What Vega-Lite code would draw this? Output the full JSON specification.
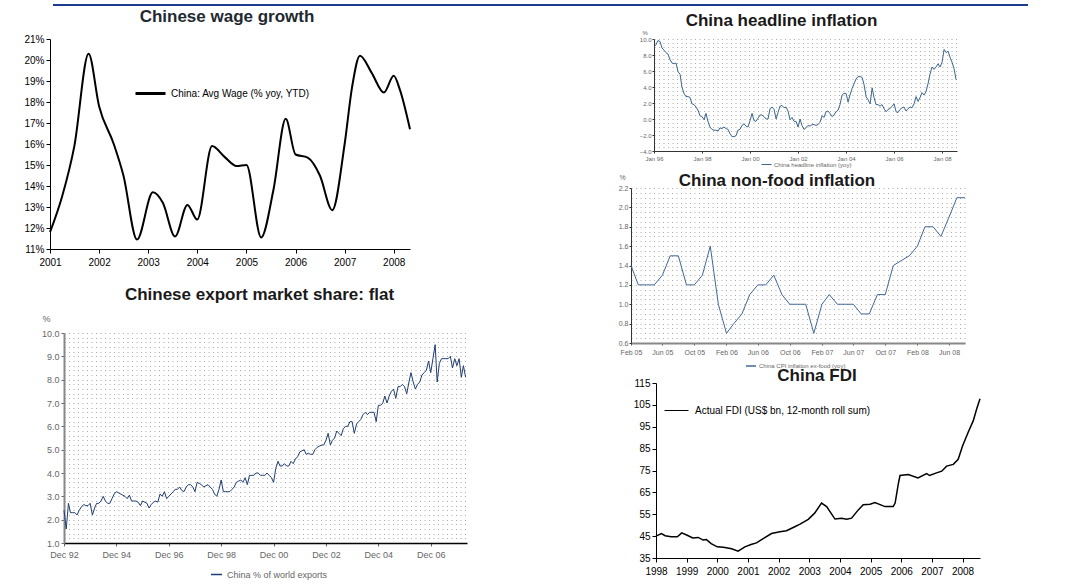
{
  "$schema": "https://vega.github.io/schema/vega-lite/v6.json",
  "padding": {"left": 0, "top": 4, "right": 0, "bottom": 0},
  "config": {
    "font": "Liberation Sans",
    "view": {"stroke": null},
    "axis": {"grid": false, "labelFont": "Liberation Sans", "titleFont": "Liberation Sans"},
    "title": {"font": "Liberation Sans", "fontWeight": "bold", "fontSize": 17, "color": "#1a1a1a", "anchor": "middle", "frame": "group"},
    "legend": {"labelFont": "Liberation Sans", "padding": 0, "labelLimit": 0}
  },
  "spacing": 2,
  "resolve": {"scale": {"color": "independent"}},
  "vconcat": [
    {
      "spacing": 0,
      "resolve": {"scale": {"color": "independent"}},
      "hconcat": [
        {"width": 53, "height": 2, "data": {"values": []}, "mark": "point", "encoding": {}, "view": {"stroke": null}},
        {"width": 975, "height": 2, "data": {"values": []}, "mark": "point", "encoding": {}, "view": {"stroke": null, "fill": "#1c3d8f"}}
      ]
    },
    {
      "spacing": 131,
      "resolve": {"scale": {"color": "independent"}},
      "hconcat": [
        {
          "spacing": 19,
          "resolve": {"scale": {"color": "independent"}},
          "vconcat": [
            {
              "spacing": 0,
              "resolve": {"scale": {"color": "independent"}},
              "hconcat": [
                {"width": 23, "height": 2, "data": {"values": []}, "mark": "point", "encoding": {}, "view": {"stroke": null}},
                {
                  "width": 360, "height": 210,
                  "title": {"text": "Chinese wage growth", "color": "#1e2a30", "offset": 8, "dx": -3},
                  "data": {"values": [
                    {"d": "2001-01-01", "v": 11.8}, {"d": "2001-04-01", "v": 13.5}, {"d": "2001-07-01", "v": 15.9},
                    {"d": "2001-10-15", "v": 20.3}, {"d": "2002-01-01", "v": 17.8}, {"d": "2002-04-20", "v": 16.0},
                    {"d": "2002-07-01", "v": 14.5}, {"d": "2002-10-10", "v": 11.45}, {"d": "2003-02-05", "v": 13.7},
                    {"d": "2003-04-20", "v": 13.2}, {"d": "2003-07-20", "v": 11.6}, {"d": "2003-10-20", "v": 13.1},
                    {"d": "2004-01-01", "v": 12.4}, {"d": "2004-04-20", "v": 15.9}, {"d": "2004-07-20", "v": 15.4},
                    {"d": "2004-10-20", "v": 14.95}, {"d": "2005-01-01", "v": 15.0}, {"d": "2005-04-20", "v": 11.55},
                    {"d": "2005-07-20", "v": 13.8}, {"d": "2005-10-20", "v": 17.2}, {"d": "2006-01-01", "v": 15.5},
                    {"d": "2006-04-01", "v": 15.35}, {"d": "2006-07-01", "v": 14.5}, {"d": "2006-10-01", "v": 12.85},
                    {"d": "2007-01-01", "v": 16.0}, {"d": "2007-02-25", "v": 18.7}, {"d": "2007-04-25", "v": 20.2},
                    {"d": "2007-07-20", "v": 19.4}, {"d": "2007-10-20", "v": 18.45}, {"d": "2008-01-01", "v": 19.25},
                    {"d": "2008-02-15", "v": 18.6}, {"d": "2008-05-01", "v": 16.7}
                  ]},
                  "mark": {"type": "line", "interpolate": "monotone", "strokeWidth": 2},
                  "encoding": {
                    "x": {"field": "d", "type": "temporal",
                      "scale": {"type": "utc", "domain": [{"year": 2001, "month": 1, "date": 1, "utc": true}, {"year": 2008, "month": 5, "date": 1, "utc": true}]},
                      "axis": {"title": null, "labelExpr": "utcFormat(datum.value, '%Y')", "tickCount": {"interval": "year", "step": 1}, "labelFontSize": 10, "labelColor": "black", "domainColor": "black", "tickColor": "black", "tickSize": 4, "labelFlush": false, "labelPadding": 4}},
                    "y": {"field": "v", "type": "quantitative",
                      "scale": {"domain": [11, 21], "zero": false, "nice": false},
                      "axis": {"title": null, "tickCount": 10, "labelExpr": "datum.value + '%'", "labelFontSize": 10, "labelColor": "black", "domainColor": "black", "tickColor": "black", "tickSize": 4}},
                    "color": {"datum": "China: Avg Wage (% yoy, YTD)", "scale": {"range": ["black"]},
                      "legend": {"title": null, "orient": "none", "legendX": 84, "legendY": 38, "symbolType": "stroke", "symbolStrokeWidth": 3, "symbolSize": 900, "labelFontSize": 10, "labelColor": "black"}}
                  }
                }
              ]
            },
            {
              "spacing": 0,
              "resolve": {"scale": {"color": "independent"}},
              "hconcat": [
                {"width": 41, "height": 2, "data": {"values": []}, "mark": "point", "encoding": {}, "view": {"stroke": null}},
                {
                  "width": 403, "height": 210,
                  "title": {"text": "Chinese export market share: flat", "offset": 10, "dx": -6},
                  "data": {"values": [
                    {"d":"1992-12","v":2.4},{"d":"1993-01","v":1.6},{"d":"1993-02","v":2.7},{"d":"1993-03","v":2.3},{"d":"1993-04","v":2.3},{"d":"1993-05","v":2.3},{"d":"1993-06","v":2.2},{"d":"1993-07","v":2.4},{"d":"1993-08","v":2.55},{"d":"1993-09","v":2.65},{"d":"1993-10","v":2.6},{"d":"1993-11","v":2.6},{"d":"1993-12","v":2.7},
                    {"d":"1994-01","v":2.2},{"d":"1994-02","v":2.5},{"d":"1994-03","v":2.7},{"d":"1994-04","v":2.7},{"d":"1994-05","v":2.8},{"d":"1994-06","v":3.0},{"d":"1994-07","v":2.8},{"d":"1994-08","v":2.7},{"d":"1994-09","v":2.7},{"d":"1994-10","v":2.9},{"d":"1994-11","v":3.1},{"d":"1994-12","v":3.2},
                    {"d":"1995-01","v":3.15},{"d":"1995-02","v":3.1},{"d":"1995-03","v":3.05},{"d":"1995-04","v":3.0},{"d":"1995-05","v":2.9},{"d":"1995-06","v":3.05},{"d":"1995-07","v":2.8},{"d":"1995-08","v":2.8},{"d":"1995-09","v":2.8},{"d":"1995-10","v":2.75},{"d":"1995-11","v":2.6},{"d":"1995-12","v":2.8},
                    {"d":"1996-01","v":2.75},{"d":"1996-02","v":2.7},{"d":"1996-03","v":2.5},{"d":"1996-04","v":2.65},{"d":"1996-05","v":2.75},{"d":"1996-06","v":2.8},{"d":"1996-07","v":2.75},{"d":"1996-08","v":3.1},{"d":"1996-09","v":3.0},{"d":"1996-10","v":3.2},{"d":"1996-11","v":2.9},{"d":"1996-12","v":3.0},
                    {"d":"1997-01","v":3.1},{"d":"1997-02","v":3.2},{"d":"1997-03","v":3.3},{"d":"1997-04","v":3.3},{"d":"1997-05","v":3.4},{"d":"1997-06","v":3.25},{"d":"1997-07","v":3.2},{"d":"1997-08","v":3.4},{"d":"1997-09","v":3.5},{"d":"1997-10","v":3.5},{"d":"1997-11","v":3.4},{"d":"1997-12","v":3.2},
                    {"d":"1998-01","v":3.6},{"d":"1998-02","v":3.55},{"d":"1998-03","v":3.5},{"d":"1998-04","v":3.4},{"d":"1998-05","v":3.45},{"d":"1998-06","v":3.5},{"d":"1998-07","v":3.4},{"d":"1998-08","v":3.3},{"d":"1998-09","v":3.1},{"d":"1998-10","v":3.0},{"d":"1998-11","v":3.3},{"d":"1998-12","v":3.7},
                    {"d":"1999-01","v":3.2},{"d":"1999-02","v":3.2},{"d":"1999-03","v":3.2},{"d":"1999-04","v":3.2},{"d":"1999-05","v":3.3},{"d":"1999-06","v":3.4},{"d":"1999-07","v":3.6},{"d":"1999-08","v":3.65},{"d":"1999-09","v":3.7},{"d":"1999-10","v":3.6},{"d":"1999-11","v":3.8},{"d":"1999-12","v":3.5},
                    {"d":"2000-01","v":3.9},{"d":"2000-02","v":3.9},{"d":"2000-03","v":3.9},{"d":"2000-04","v":4.0},{"d":"2000-05","v":4.0},{"d":"2000-06","v":3.9},{"d":"2000-07","v":3.9},{"d":"2000-08","v":3.9},{"d":"2000-09","v":4.0},{"d":"2000-10","v":3.9},{"d":"2000-11","v":3.8},{"d":"2000-12","v":3.6},
                    {"d":"2001-01","v":4.2},{"d":"2001-02","v":4.5},{"d":"2001-03","v":4.3},{"d":"2001-04","v":4.3},{"d":"2001-05","v":4.4},{"d":"2001-06","v":4.3},{"d":"2001-07","v":4.3},{"d":"2001-08","v":4.5},{"d":"2001-09","v":4.4},{"d":"2001-10","v":4.6},{"d":"2001-11","v":4.7},{"d":"2001-12","v":4.9},
                    {"d":"2002-01","v":4.95},{"d":"2002-02","v":5.0},{"d":"2002-03","v":4.8},{"d":"2002-04","v":4.85},{"d":"2002-05","v":4.8},{"d":"2002-06","v":4.8},{"d":"2002-07","v":5.0},{"d":"2002-08","v":5.1},{"d":"2002-09","v":5.15},{"d":"2002-10","v":5.2},{"d":"2002-11","v":5.2},{"d":"2002-12","v":5.4},
                    {"d":"2003-01","v":5.7},{"d":"2003-02","v":5.2},{"d":"2003-03","v":5.4},{"d":"2003-04","v":5.5},{"d":"2003-05","v":5.8},{"d":"2003-06","v":5.7},{"d":"2003-07","v":5.6},{"d":"2003-08","v":5.9},{"d":"2003-09","v":6.0},{"d":"2003-10","v":6.0},{"d":"2003-11","v":6.2},{"d":"2003-12","v":6.2},
                    {"d":"2004-01","v":5.7},{"d":"2004-02","v":6.1},{"d":"2004-03","v":6.2},{"d":"2004-04","v":6.3},{"d":"2004-05","v":6.5},{"d":"2004-06","v":6.6},{"d":"2004-07","v":6.5},{"d":"2004-08","v":6.6},{"d":"2004-09","v":6.6},{"d":"2004-10","v":6.6},{"d":"2004-11","v":6.2},{"d":"2004-12","v":6.9},
                    {"d":"2005-01","v":6.9},{"d":"2005-02","v":7.0},{"d":"2005-03","v":7.3},{"d":"2005-04","v":7.0},{"d":"2005-05","v":7.3},{"d":"2005-06","v":7.5},{"d":"2005-07","v":7.6},{"d":"2005-08","v":7.2},{"d":"2005-09","v":7.7},{"d":"2005-10","v":7.7},{"d":"2005-11","v":7.8},{"d":"2005-12","v":7.7},
                    {"d":"2006-01","v":7.4},{"d":"2006-02","v":7.9},{"d":"2006-03","v":8.3},{"d":"2006-04","v":7.9},{"d":"2006-05","v":7.6},{"d":"2006-06","v":7.8},{"d":"2006-07","v":7.9},{"d":"2006-08","v":8.2},{"d":"2006-09","v":8.3},{"d":"2006-10","v":8.4},{"d":"2006-11","v":8.8},{"d":"2006-12","v":8.3},
                    {"d":"2007-01","v":8.9},{"d":"2007-02","v":9.5},{"d":"2007-03","v":7.9},{"d":"2007-04","v":8.7},{"d":"2007-05","v":8.9},{"d":"2007-06","v":8.9},{"d":"2007-07","v":8.9},{"d":"2007-08","v":8.9},{"d":"2007-09","v":9.0},{"d":"2007-10","v":8.5},{"d":"2007-11","v":8.9},{"d":"2007-12","v":8.6},
                    {"d":"2008-01","v":8.9},{"d":"2008-02","v":8.1},{"d":"2008-03","v":8.6},{"d":"2008-04","v":8.1}
                  ]},
                  "mark": {"type": "line", "strokeWidth": 1},
                  "encoding": {
                    "x": {"field": "d", "type": "temporal",
                      "scale": {"type": "utc", "domain": [{"year": 1992, "month": 12, "date": 1, "utc": true}, {"year": 2008, "month": 4, "date": 20, "utc": true}]},
                      "axis": {"title": null, "labelExpr": "utcFormat(datum.value, '%b %y')",
                        "values": [{"year": 1992, "month": 12, "date": 1, "utc": true}, {"year": 1994, "month": 12, "date": 1, "utc": true}, {"year": 1996, "month": 12, "date": 1, "utc": true}, {"year": 1998, "month": 12, "date": 1, "utc": true}, {"year": 2000, "month": 12, "date": 1, "utc": true}, {"year": 2002, "month": 12, "date": 1, "utc": true}, {"year": 2004, "month": 12, "date": 1, "utc": true}, {"year": 2006, "month": 12, "date": 1, "utc": true}],
                        "labelFontSize": 9, "labelColor": "#666", "domainColor": "black", "domainWidth": 1.5, "tickColor": "#666", "tickSize": 3, "labelFlush": false, "labelPadding": 4}},
                    "y": {"field": "v", "type": "quantitative",
                      "scale": {"domain": [1, 10], "zero": false, "nice": false},
                      "axis": {"title": "%", "titleAngle": 0, "titleX": -22, "titleY": -10, "titleFontSize": 9, "titleFontWeight": "normal", "titleColor": "#666", "titleAlign": "left", "titleBaseline": "bottom",
                        "tickCount": 45, "grid": true, "gridDash": [1, 3.5], "gridColor": "#aaa",
                        "labelExpr": "abs(datum.value - round(datum.value)) < 0.01 ? format(datum.value, '.1f') : ''",
                        "labelOverlap": false, "labelFontSize": 9, "labelColor": "#666",
                        "tickOpacity": {"condition": {"test": "abs(datum.value - round(datum.value)) < 0.01", "value": 1}, "value": 0},
                        "domainColor": "#888", "domainWidth": 2, "tickColor": "#666", "tickSize": 3}},
                    "color": {"datum": "China % of world exports", "scale": {"range": ["#1f3d73"]},
                      "legend": {"title": null, "orient": "none", "legendX": 146, "legendY": 235, "symbolType": "stroke", "symbolStrokeWidth": 1.5, "symbolSize": 121, "labelFontSize": 9, "labelColor": "#666"}}
                  }
                }
              ]
            }
          ]
        },
        {
          "spacing": -2,
          "resolve": {"scale": {"color": "independent"}},
          "vconcat": [
            {
              "spacing": 4,
              "resolve": {"scale": {"color": "independent"}},
              "vconcat": [
                {
                  "spacing": 0,
                  "resolve": {"scale": {"color": "independent"}},
                  "hconcat": [
                    {"width": 40, "height": 2, "data": {"values": []}, "mark": "point", "encoding": {}, "view": {"stroke": null}},
                    {
                      "width": 303, "height": 112,
                      "title": {"text": "China headline inflation", "dx": -24, "offset": -1},
                      "data": {"values": [
                        {"d":"1996-01","v":9.0},{"d":"1996-02","v":9.3},{"d":"1996-03","v":9.8},{"d":"1996-04","v":9.7},{"d":"1996-05","v":8.9},{"d":"1996-06","v":8.6},{"d":"1996-07","v":8.3},{"d":"1996-08","v":8.1},{"d":"1996-09","v":7.4},{"d":"1996-10","v":7.0},{"d":"1996-11","v":6.9},{"d":"1996-12","v":7.0},
                        {"d":"1997-01","v":5.9},{"d":"1997-02","v":5.6},{"d":"1997-03","v":4.0},{"d":"1997-04","v":3.2},{"d":"1997-05","v":2.8},{"d":"1997-06","v":2.8},{"d":"1997-07","v":2.7},{"d":"1997-08","v":1.9},{"d":"1997-09","v":1.8},{"d":"1997-10","v":1.5},{"d":"1997-11","v":1.1},{"d":"1997-12","v":0.4},
                        {"d":"1998-01","v":0.3},{"d":"1998-02","v":-0.1},{"d":"1998-03","v":0.7},{"d":"1998-04","v":-0.3},{"d":"1998-05","v":-1.0},{"d":"1998-06","v":-1.3},{"d":"1998-07","v":-1.4},{"d":"1998-08","v":-1.4},{"d":"1998-09","v":-1.5},{"d":"1998-10","v":-1.1},{"d":"1998-11","v":-1.2},{"d":"1998-12","v":-1.0},
                        {"d":"1999-01","v":-1.2},{"d":"1999-02","v":-1.3},{"d":"1999-03","v":-1.8},{"d":"1999-04","v":-2.2},{"d":"1999-05","v":-2.2},{"d":"1999-06","v":-2.1},{"d":"1999-07","v":-1.4},{"d":"1999-08","v":-1.3},{"d":"1999-09","v":-0.8},{"d":"1999-10","v":-0.6},{"d":"1999-11","v":-0.9},{"d":"1999-12","v":-1.0},
                        {"d":"2000-01","v":-0.2},{"d":"2000-02","v":0.7},{"d":"2000-03","v":-0.2},{"d":"2000-04","v":-0.3},{"d":"2000-05","v":0.1},{"d":"2000-06","v":0.5},{"d":"2000-07","v":0.5},{"d":"2000-08","v":0.3},{"d":"2000-09","v":0.0},{"d":"2000-10","v":0.0},{"d":"2000-11","v":1.3},{"d":"2000-12","v":1.5},
                        {"d":"2001-01","v":1.2},{"d":"2001-02","v":0.0},{"d":"2001-03","v":0.8},{"d":"2001-04","v":1.6},{"d":"2001-05","v":1.7},{"d":"2001-06","v":1.4},{"d":"2001-07","v":1.5},{"d":"2001-08","v":1.0},{"d":"2001-09","v":-0.1},{"d":"2001-10","v":0.2},{"d":"2001-11","v":-0.3},{"d":"2001-12","v":-0.3},
                        {"d":"2002-01","v":-1.0},{"d":"2002-02","v":0.0},{"d":"2002-03","v":-0.8},{"d":"2002-04","v":-1.3},{"d":"2002-05","v":-1.1},{"d":"2002-06","v":-0.8},{"d":"2002-07","v":-0.9},{"d":"2002-08","v":-0.7},{"d":"2002-09","v":-0.7},{"d":"2002-10","v":-0.8},{"d":"2002-11","v":-0.7},{"d":"2002-12","v":-0.4},
                        {"d":"2003-01","v":0.4},{"d":"2003-02","v":0.2},{"d":"2003-03","v":0.9},{"d":"2003-04","v":1.0},{"d":"2003-05","v":0.7},{"d":"2003-06","v":0.3},{"d":"2003-07","v":0.5},{"d":"2003-08","v":0.9},{"d":"2003-09","v":1.1},{"d":"2003-10","v":1.8},{"d":"2003-11","v":3.0},{"d":"2003-12","v":3.2},
                        {"d":"2004-01","v":3.2},{"d":"2004-02","v":2.1},{"d":"2004-03","v":3.0},{"d":"2004-04","v":3.8},{"d":"2004-05","v":4.4},{"d":"2004-06","v":5.0},{"d":"2004-07","v":5.3},{"d":"2004-08","v":5.3},{"d":"2004-09","v":5.2},{"d":"2004-10","v":4.3},{"d":"2004-11","v":2.8},{"d":"2004-12","v":2.4},
                        {"d":"2005-01","v":1.9},{"d":"2005-02","v":3.9},{"d":"2005-03","v":2.7},{"d":"2005-04","v":1.8},{"d":"2005-05","v":1.8},{"d":"2005-06","v":1.6},{"d":"2005-07","v":1.8},{"d":"2005-08","v":1.3},{"d":"2005-09","v":0.9},{"d":"2005-10","v":1.2},{"d":"2005-11","v":1.3},{"d":"2005-12","v":1.6},
                        {"d":"2006-01","v":1.9},{"d":"2006-02","v":0.9},{"d":"2006-03","v":0.8},{"d":"2006-04","v":1.2},{"d":"2006-05","v":1.4},{"d":"2006-06","v":1.5},{"d":"2006-07","v":1.0},{"d":"2006-08","v":1.3},{"d":"2006-09","v":1.5},{"d":"2006-10","v":1.4},{"d":"2006-11","v":1.9},{"d":"2006-12","v":2.8},
                        {"d":"2007-01","v":2.2},{"d":"2007-02","v":2.7},{"d":"2007-03","v":3.3},{"d":"2007-04","v":3.0},{"d":"2007-05","v":3.4},{"d":"2007-06","v":4.4},{"d":"2007-07","v":5.6},{"d":"2007-08","v":6.5},{"d":"2007-09","v":6.2},{"d":"2007-10","v":6.5},{"d":"2007-11","v":6.9},{"d":"2007-12","v":6.5},
                        {"d":"2008-01","v":7.1},{"d":"2008-02","v":8.7},{"d":"2008-03","v":8.3},{"d":"2008-04","v":8.5},{"d":"2008-05","v":7.7},{"d":"2008-06","v":7.1},{"d":"2008-07","v":6.3},{"d":"2008-08","v":4.9}
                      ]},
                      "mark": {"type": "line", "strokeWidth": 1},
                      "encoding": {
                        "x": {"field": "d", "type": "temporal",
                          "scale": {"type": "utc", "domain": [{"year": 1996, "month": 1, "date": 1, "utc": true}, {"year": 2008, "month": 8, "date": 15, "utc": true}]},
                          "axis": {"title": null, "labelExpr": "utcFormat(datum.value, '%b %y')", "tickCount": {"interval": "year", "step": 2},
                            "labelFontSize": 6, "labelColor": "#666", "domainColor": "#333", "tickColor": "#333", "tickSize": 2, "labelFlush": false, "labelPadding": 2}},
                        "y": {"field": "v", "type": "quantitative",
                          "scale": {"domain": [-4, 10], "zero": false, "nice": false},
                          "axis": {"title": "%", "titleAngle": 0, "titleX": -12, "titleY": -4, "titleFontSize": 6, "titleFontWeight": "normal", "titleColor": "#666", "titleAlign": "left", "titleBaseline": "bottom",
                            "tickCount": 28, "grid": true, "gridDash": [1, 3.5], "gridColor": "#aaa",
                            "labelExpr": "abs(datum.value / 2 - round(datum.value / 2)) < 0.01 ? format(datum.value, '.1f') : ''",
                            "labelOverlap": false, "labelFontSize": 6, "labelColor": "#666", "labelPadding": 1,
                            "tickOpacity": {"condition": {"test": "abs(datum.value / 2 - round(datum.value / 2)) < 0.01", "value": 1}, "value": 0},
                            "domainColor": "#333", "tickColor": "#333", "tickSize": 2}},
                        "color": {"datum": "China headline inflation (yoy)", "scale": {"range": ["#3b6690"]},
                          "legend": {"title": null, "orient": "none", "legendX": 107, "legendY": 120, "symbolType": "stroke", "symbolStrokeWidth": 1, "symbolSize": 100, "labelFontSize": 6, "labelColor": "#666", "labelOffset": 2}}
                      }
                    }
                  ]
                },
                {
                  "spacing": 0,
                  "resolve": {"scale": {"color": "independent"}},
                  "hconcat": [
                    {"width": 19, "height": 2, "data": {"values": []}, "mark": "point", "encoding": {}, "view": {"stroke": null}},
                    {
                      "width": 334, "height": 155,
                      "title": {"text": "China non-food inflation", "dx": -21, "offset": -17},
                      "data": {"values": [
                        {"d":"2005-02","v":1.4},{"d":"2005-03","v":1.2},{"d":"2005-04","v":1.2},{"d":"2005-05","v":1.2},{"d":"2005-06","v":1.3},{"d":"2005-07","v":1.5},{"d":"2005-08","v":1.5},{"d":"2005-09","v":1.2},{"d":"2005-10","v":1.2},{"d":"2005-11","v":1.3},{"d":"2005-12","v":1.6},
                        {"d":"2006-01","v":1.0},{"d":"2006-02","v":0.7},{"d":"2006-03","v":0.8},{"d":"2006-04","v":0.9},{"d":"2006-05","v":1.1},{"d":"2006-06","v":1.2},{"d":"2006-07","v":1.2},{"d":"2006-08","v":1.3},{"d":"2006-09","v":1.1},{"d":"2006-10","v":1.0},{"d":"2006-11","v":1.0},{"d":"2006-12","v":1.0},
                        {"d":"2007-01","v":0.7},{"d":"2007-02","v":1.0},{"d":"2007-03","v":1.1},{"d":"2007-04","v":1.0},{"d":"2007-05","v":1.0},{"d":"2007-06","v":1.0},{"d":"2007-07","v":0.9},{"d":"2007-08","v":0.9},{"d":"2007-09","v":1.1},{"d":"2007-10","v":1.1},{"d":"2007-11","v":1.4},{"d":"2007-12","v":1.45},
                        {"d":"2008-01","v":1.5},{"d":"2008-02","v":1.6},{"d":"2008-03","v":1.8},{"d":"2008-04","v":1.8},{"d":"2008-05","v":1.7},{"d":"2008-06","v":1.9},{"d":"2008-07","v":2.1},{"d":"2008-08","v":2.1}
                      ]},
                      "mark": {"type": "line", "strokeWidth": 1},
                      "encoding": {
                        "x": {"field": "d", "type": "temporal",
                          "scale": {"type": "utc", "domain": [{"year": 2005, "month": 2, "date": 1, "utc": true}, {"year": 2008, "month": 8, "date": 1, "utc": true}]},
                          "axis": {"title": null, "labelExpr": "utcFormat(datum.value, '%b %y')",
                            "values": [{"year": 2005, "month": 2, "date": 1, "utc": true}, {"year": 2005, "month": 6, "date": 1, "utc": true}, {"year": 2005, "month": 10, "date": 1, "utc": true}, {"year": 2006, "month": 2, "date": 1, "utc": true}, {"year": 2006, "month": 6, "date": 1, "utc": true}, {"year": 2006, "month": 10, "date": 1, "utc": true}, {"year": 2007, "month": 2, "date": 1, "utc": true}, {"year": 2007, "month": 6, "date": 1, "utc": true}, {"year": 2007, "month": 10, "date": 1, "utc": true}, {"year": 2008, "month": 2, "date": 1, "utc": true}, {"year": 2008, "month": 6, "date": 1, "utc": true}],
                            "labelFontSize": 7, "labelColor": "#666", "domainColor": "#888", "domainWidth": 2, "tickColor": "#555", "tickSize": 2, "labelFlush": false, "labelPadding": 3}},
                        "y": {"field": "v", "type": "quantitative",
                          "scale": {"domain": [0.6, 2.2], "zero": false, "nice": false},
                          "axis": {"title": "%", "titleAngle": 0, "titleX": -12, "titleY": -8, "titleFontSize": 7, "titleFontWeight": "normal", "titleColor": "#666", "titleAlign": "left", "titleBaseline": "bottom",
                            "tickCount": 32, "grid": true, "gridDash": [1, 3.5], "gridColor": "#aaa",
                            "labelExpr": "abs(datum.value * 5 - round(datum.value * 5)) < 0.01 ? format(datum.value, '.1f') : ''",
                            "labelOverlap": false, "labelFontSize": 7, "labelColor": "#666", "labelPadding": 1,
                            "tickOpacity": {"condition": {"test": "abs(datum.value * 5 - round(datum.value * 5)) < 0.01", "value": 1}, "value": 0},
                            "domainColor": "#333", "tickColor": "#333", "tickSize": 2}},
                        "color": {"datum": "China CPI inflation ex-food (yoy)", "scale": {"range": ["#41689a"]},
                          "legend": {"title": null, "orient": "none", "legendX": 114, "legendY": 172, "symbolType": "stroke", "symbolStrokeWidth": 1.5, "symbolSize": 100, "labelFontSize": 6, "labelColor": "#666", "labelOffset": 2}}
                      }
                    }
                  ]
                }
              ]
            },
            {
              "spacing": 0,
              "resolve": {"scale": {"color": "independent"}},
              "hconcat": [
                {"width": 34, "height": 2, "data": {"values": []}, "mark": "point", "encoding": {}, "view": {"stroke": null}},
                {
                  "width": 324, "height": 175,
                  "title": {"text": "China FDI", "offset": -7, "dx": -1},
                  "data": {"values": [
                    {"d":"1998-01-01","v":45.0},{"d":"1998-03-06","v":46.2},{"d":"1998-04-20","v":45.2},{"d":"1998-07-01","v":44.7},{"d":"1998-09-13","v":44.7},{"d":"1998-11-03","v":46.5},
                    {"d":"1999-01-01","v":45.5},{"d":"1999-03-15","v":44.2},{"d":"1999-05-19","v":44.4},{"d":"1999-07-16","v":43.2},{"d":"1999-08-25","v":43.4},{"d":"1999-10-20","v":41.6},
                    {"d":"2000-01-01","v":40.1},{"d":"2000-03-15","v":39.9},{"d":"2000-06-20","v":39.2},{"d":"2000-09-05","v":38.1},{"d":"2000-11-25","v":40.1},
                    {"d":"2001-02-06","v":41.2},{"d":"2001-04-12","v":41.9},{"d":"2001-07-01","v":43.9},{"d":"2001-10-08","v":46.2},
                    {"d":"2002-01-15","v":47.0},{"d":"2002-04-05","v":47.5},{"d":"2002-07-12","v":49.3},{"d":"2002-09-13","v":50.5},{"d":"2002-12-20","v":52.7},
                    {"d":"2003-03-06","v":55.5},{"d":"2003-05-27","v":60.1},{"d":"2003-07-27","v":58.5},{"d":"2003-11-03","v":52.8},
                    {"d":"2004-01-20","v":53.2},{"d":"2004-03-22","v":52.7},{"d":"2004-05-19","v":53.2},{"d":"2004-08-07","v":57.0},{"d":"2004-10-05","v":59.3},{"d":"2004-12-25","v":59.6},
                    {"d":"2005-02-21","v":60.4},{"d":"2005-06-21","v":58.5},{"d":"2005-09-27","v":58.5},{"d":"2005-10-20","v":60.1},{"d":"2005-11-25","v":68.5},{"d":"2005-12-17","v":72.7},
                    {"d":"2006-03-26","v":73.2},{"d":"2006-07-19","v":71.6},{"d":"2006-10-30","v":73.6},{"d":"2006-12-05","v":72.7},
                    {"d":"2007-02-25","v":73.9},{"d":"2007-04-28","v":74.7},{"d":"2007-06-25","v":77.0},{"d":"2007-09-13","v":77.8},{"d":"2007-11-10","v":80.1},
                    {"d":"2008-01-01","v":86.2},{"d":"2008-03-07","v":92.4},{"d":"2008-05-08","v":97.8},{"d":"2008-06-18","v":103.2},{"d":"2008-07-27","v":107.8}
                  ]},
                  "mark": {"type": "line", "strokeWidth": 1.5},
                  "encoding": {
                    "x": {"field": "d", "type": "temporal",
                      "scale": {"type": "utc", "domain": [{"year": 1998, "month": 1, "date": 1, "utc": true}, {"year": 2008, "month": 7, "date": 27, "utc": true}]},
                      "axis": {"title": null, "labelExpr": "utcFormat(datum.value, '%Y')", "tickCount": {"interval": "year", "step": 1}, "labelFontSize": 10, "labelColor": "black", "domainColor": "black", "tickColor": "black", "tickSize": 4, "labelFlush": false, "labelPadding": 4}},
                    "y": {"field": "v", "type": "quantitative",
                      "scale": {"domain": [35, 115], "zero": false, "nice": false},
                      "axis": {"title": null, "values": [35, 45, 55, 65, 75, 85, 95, 105, 115], "labelFontSize": 10, "labelColor": "black", "domainColor": "black", "tickColor": "black", "tickSize": 4}},
                    "color": {"datum": "Actual FDI (US$ bn, 12-month roll sum)", "scale": {"range": ["black"]},
                      "legend": {"title": null, "orient": "none", "legendX": 8, "legendY": 15, "symbolType": "stroke", "symbolStrokeWidth": 1, "symbolSize": 576, "labelFontSize": 10, "labelColor": "black", "labelOffset": 6}}
                  }
                }
              ]
            }
          ]
        }
      ]
    }
  ]
}
